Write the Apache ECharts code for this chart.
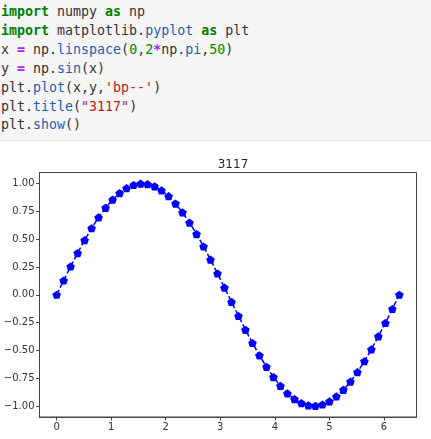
<!DOCTYPE html>
<html>
<head>
<meta charset="utf-8">
<script src="https://cdn.jsdelivr.net/npm/echarts@6/dist/echarts.min.js"></script>
<style>
html,body{margin:0;padding:0;background:#fff;width:431px;height:439px;overflow:hidden;}
#code{position:absolute;left:0;top:0;width:431px;height:141px;background:#f5f5f5;border-bottom:1px solid #e0e0e0;z-index:2;
  font-family:"DejaVu Sans Mono","Liberation Mono",monospace;font-size:13.3px;line-height:18.9px;color:#333;padding-top:3px;box-sizing:border-box;white-space:pre;}
#code .line{padding-left:1px;}
.kw{color:#008000;font-weight:bold;}
.op{color:#aa22ff;font-weight:bold;}
.pr{color:#1f5fae;}
.nu{color:#008800;}
.st{color:#ba2121;}
#chart{position:absolute;left:0;top:0;width:431px;height:439px;z-index:1;}
</style>
</head>
<body>
<div id="code"><div class="line"><span class="kw">import</span> numpy <span class="kw">as</span> np</div><div class="line"><span class="kw">import</span> matplotlib.<span class="pr">pyplot</span> <span class="kw">as</span> plt</div><div class="line">x <span class="op">=</span> np.<span class="pr">linspace</span>(<span class="nu">0</span>,<span class="nu">2</span><span class="op">*</span>np.<span class="pr">pi</span>,<span class="nu">50</span>)</div><div class="line">y <span class="op">=</span> np.<span class="pr">sin</span>(x)</div><div class="line">plt.<span class="pr">plot</span>(x,y,<span class="st">'bp--'</span>)</div><div class="line">plt.<span class="pr">title</span>(<span class="st">"3117"</span>)</div><div class="line">plt.<span class="pr">show</span>()</div></div>
<div id="chart"></div>
<script>
const titleText = "3117";
const xVals = [0, 0.128, 0.256, 0.385, 0.513, 0.641, 0.769, 0.898, 1.026, 1.154,
  1.282, 1.411, 1.539, 1.667, 1.795, 1.923, 2.052, 2.180, 2.308, 2.436,
  2.565, 2.693, 2.821, 2.949, 3.077, 3.206, 3.334, 3.462, 3.590, 3.718,
  3.847, 3.975, 4.103, 4.231, 4.360, 4.488, 4.616, 4.744, 4.873, 5.001,
  5.129, 5.257, 5.386, 5.514, 5.642, 5.770, 5.898, 6.027, 6.155, 6.283];
const yVals = [0, 0.128, 0.254, 0.375, 0.491, 0.598, 0.696, 0.782, 0.855, 0.914,
  0.959, 0.987, 0.999, 0.995, 0.975, 0.938, 0.887, 0.820, 0.740, 0.648,
  0.546, 0.434, 0.315, 0.191, 0.064, -0.064, -0.191, -0.315, -0.434, -0.546,
  -0.648, -0.740, -0.820, -0.887, -0.938, -0.975, -0.995, -0.999, -0.987, -0.959,
  -0.914, -0.855, -0.782, -0.696, -0.598, -0.491, -0.375, -0.254, -0.128, 0];
const xTicks = [0, 1, 2, 3, 4, 5, 6];
const yTicks = [-1.00, -0.75, -0.50, -0.25, 0.00, 0.25, 0.50, 0.75, 1.00];

const chart = echarts.init(document.getElementById('chart'), null, {renderer: 'canvas'});
const axisColor = '#444';
const labelFont = {color: '#333', fontSize: 10, fontFamily: 'DejaVu Sans, sans-serif'};
const pentagon = 'path://M0,-1 L0.951,-0.309 L0.588,0.809 L-0.588,0.809 L-0.951,-0.309 Z';
chart.setOption({
  animation: false,
  backgroundColor: '#fff',
  title: {
    text: titleText, left: 228, top: 154, textAlign: 'center',
    textStyle: {color: '#262626', fontSize: 12, fontWeight: 'normal', fontFamily: 'DejaVu Sans, sans-serif'}
  },
  grid: {left: 39.5, right: 14.5, top: 172.5, bottom: 22, show: true, borderColor: axisColor, borderWidth: 1, backgroundColor: 'transparent', containLabel: false},
  xAxis: {
    type: 'value', min: -0.31416, max: 6.59734,
    splitLine: {show: false},
    axisLine: {show: true, onZero: false, lineStyle: {color: axisColor, width: 1}},
    axisTick: {show: true, length: 3.5, customValues: xTicks, lineStyle: {color: axisColor}},
    axisLabel: Object.assign({customValues: xTicks, margin: 5, formatter: v => String(v)}, labelFont)
  },
  yAxis: {
    type: 'value', min: -1.0994, max: 1.0994,
    splitLine: {show: false},
    axisLine: {show: true, onZero: false, lineStyle: {color: axisColor, width: 1}},
    axisTick: {show: true, length: 3.5, customValues: yTicks, lineStyle: {color: axisColor}},
    axisLabel: Object.assign({customValues: yTicks, margin: 5,
      formatter: v => (v < 0 ? '\u2212' : '') + Math.abs(v).toFixed(2)}, labelFont)
  },
  series: [{
    type: 'line',
    data: xVals.map((x, i) => [x, yVals[i]]),
    symbol: pentagon,
    symbolSize: [8.6, 8.2],
    showAllSymbol: true,
    itemStyle: {color: '#0000ff', borderWidth: 0},
    lineStyle: {color: '#0000ff', width: 1.5, type: [5.5, 2.4]},
    emphasis: {disabled: true}
  }]
});
</script>
</body>
</html>
